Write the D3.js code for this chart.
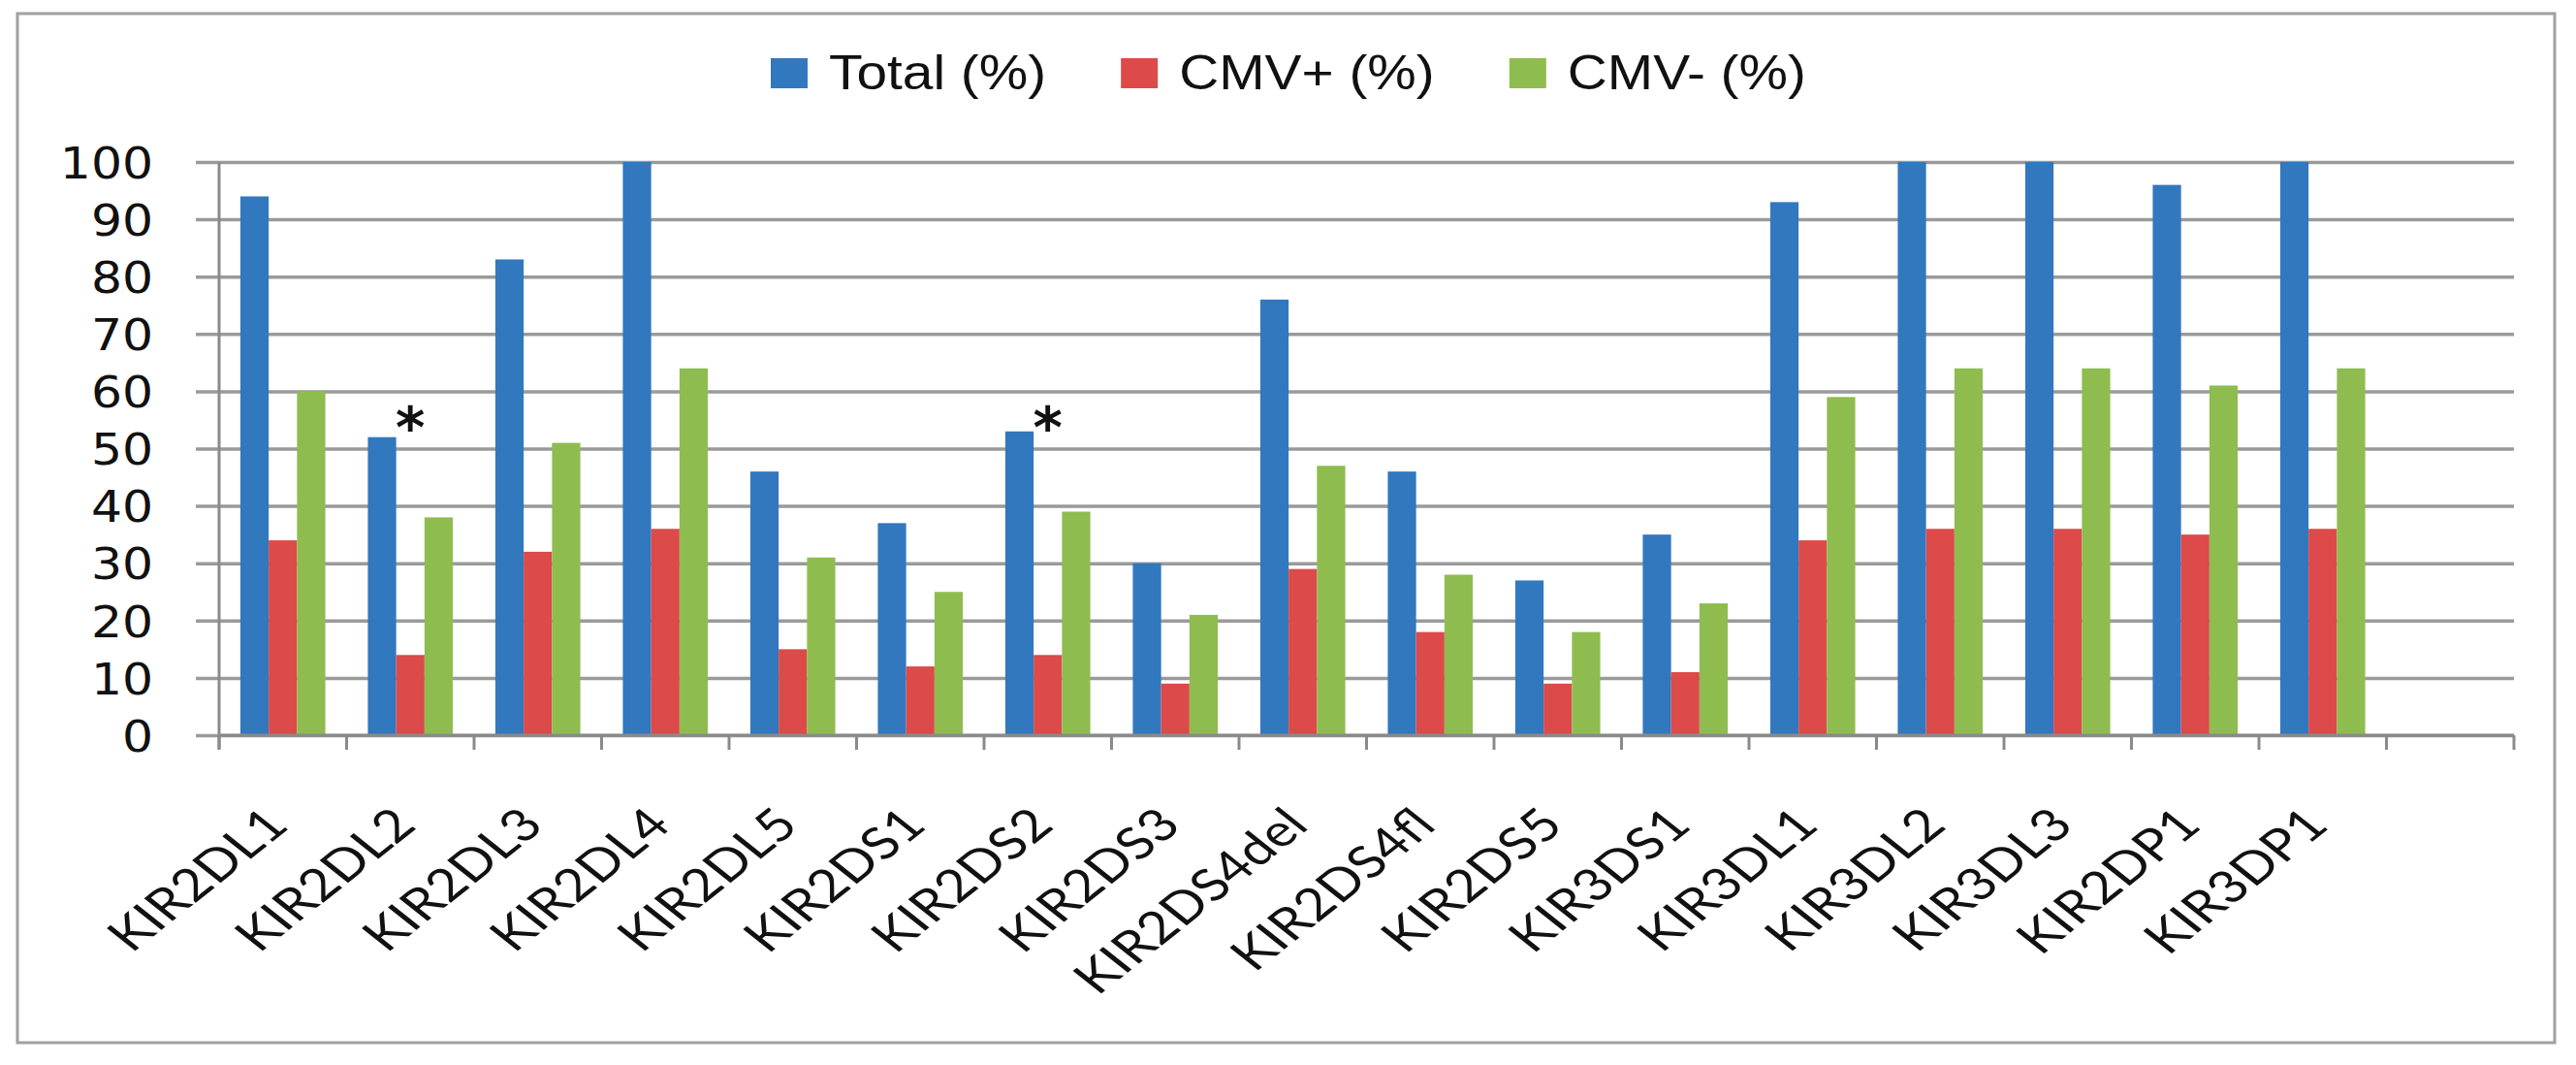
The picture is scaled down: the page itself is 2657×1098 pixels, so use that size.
<!DOCTYPE html>
<html>
<head>
<meta charset="utf-8">
<title>KIR genes: Total, CMV+ and CMV- (%)</title>
<style>
    body { margin: 0; background: #fff; }
    svg { display: block; background: #fff; }
</style>
</head>
<body>
<script src="https://d3js.org/d3.v7.min.js"></script>
<script>
    // chart values
    const categories = ["KIR2DL1", "KIR2DL2", "KIR2DL3", "KIR2DL4", "KIR2DL5", "KIR2DS1", "KIR2DS2",
        "KIR2DS3", "KIR2DS4del", "KIR2DS4fl", "KIR2DS5", "KIR3DS1", "KIR3DL1", "KIR3DL2",
        "KIR3DL3", "KIR2DP1", "KIR3DP1"];
    const totalPct = [94, 52, 83, 100, 46, 37, 53, 30, 76, 46, 27, 35, 93, 100, 100, 96, 100];
    const cmvPosPct = [34, 14, 32, 36, 15, 12, 14, 9, 29, 18, 9, 11, 34, 36, 36, 35, 36];
    const cmvNegPct = [60, 38, 51, 64, 31, 25, 39, 21, 47, 28, 18, 23, 59, 64, 64, 61, 64];
    const seriesNames = ["Total (%)", "CMV+ (%)", "CMV- (%)"];
    const seriesColors = ["#3278bf", "#dc4a4a", "#8fbc4f"];
    const yTicks = [0, 10, 20, 30, 40, 50, 60, 70, 80, 90, 100];
    const starred = ["KIR2DL2", "KIR2DS2"];
    const starLevel = 56;

    const width = 2657, height = 1098;
    const plot = { left: 226, right: 2593, top: 167, bottom: 758 };
    const stretch = 1.16; // the original picture is a bit wider than its fonts

    const svg = d3.select("body").append("svg")
        .attr("width", width)
        .attr("height", height);

    // outer frame
    svg.append("rect")
        .attr("x", 18).attr("y", 14)
        .attr("width", 2617).attr("height", 1061)
        .attr("fill", "none")
        .attr("stroke", "#a0a0a0")
        .attr("stroke-width", 3);

    // one empty slot after the last category, like the original
    const x = d3.scaleBand()
        .domain(categories.concat([""]))
        .range([plot.left, plot.right]);

    const xs = d3.scaleBand()
        .domain(seriesNames)
        .range([0, x.bandwidth()])
        .paddingOuter(0.75);

    const y = d3.scaleLinear()
        .domain([0, 100])
        .range([plot.bottom, plot.top]);

    // gridlines + y axis
    const yAxis = svg.append("g")
        .attr("transform", `translate(${plot.left},0)`)
        .call(d3.axisLeft(y).tickValues(yTicks).tickSizeOuter(0).tickSizeInner(24).tickPadding(44));
    yAxis.select(".domain").remove();
    yAxis.selectAll(".tick line")
        .attr("x2", plot.right - plot.left)
        .attr("x1", -24)
        .attr("stroke", "#9a9a9a")
        .attr("stroke-width", 3.5);
    yAxis.selectAll(".tick text")
        .attr("font-family", "DejaVu Sans, Verdana, sans-serif")
        .attr("font-size", 45)
        .attr("fill", "#111")
        .attr("x", -68 / 1.12)
        .attr("transform", "scale(1.12,1)")
        .attr("dy", "0.36em");

    svg.append("line")
        .attr("x1", plot.left).attr("x2", plot.left)
        .attr("y1", plot.top).attr("y2", plot.bottom + 14)
        .attr("stroke", "#8a8a8a").attr("stroke-width", 3);

    // bars
    const rows = categories.map((c, i) => ({
        cat: c,
        values: [totalPct[i], cmvPosPct[i], cmvNegPct[i]]
    }));

    const groups = svg.append("g").selectAll("g")
        .data(rows)
        .join("g")
        .attr("transform", d => `translate(${x(d.cat)},0)`);

    groups.selectAll("rect")
        .data(d => d.values.map((v, k) => ({ name: seriesNames[k], v: v, k: k })))
        .join("rect")
        .attr("x", d => xs(d.name))
        .attr("width", xs.bandwidth())
        .attr("y", d => y(d.v))
        .attr("height", d => y(0) - y(d.v))
        .attr("fill", d => seriesColors[d.k]);

    // x axis with ticks between categories
    svg.append("line")
        .attr("x1", plot.left).attr("x2", plot.right)
        .attr("y1", plot.bottom).attr("y2", plot.bottom)
        .attr("stroke", "#8a8a8a").attr("stroke-width", 3);

    const bounds = x.domain().map(c => x(c)).concat([plot.right]);
    svg.append("g").selectAll("line")
        .data(bounds)
        .join("line")
        .attr("x1", d => d).attr("x2", d => d)
        .attr("y1", plot.bottom).attr("y2", plot.bottom + 15)
        .attr("stroke", "#8a8a8a").attr("stroke-width", 3);

    svg.append("g").selectAll("text")
        .data(categories)
        .join("text")
        .attr("transform", d => `translate(${x(d) + x.bandwidth() / 2 + 8},853) scale(1.26,1) rotate(-45)`)
        .attr("text-anchor", "end")
        .attr("font-family", "Lato, 'Open Sans', sans-serif")
        .attr("font-size", 46)
        .attr("fill", "#111")
        .text(d => d);

    // significance marks
    svg.append("g").selectAll("text")
        .data(starred)
        .join("text")
        .attr("x", d => x(d) + x.bandwidth() / 2)
        .attr("y", y(starLevel) + 34)
        .attr("text-anchor", "middle")
        .attr("font-family", "DejaVu Sans, sans-serif")
        .attr("font-weight", "bold")
        .attr("font-size", 58)
        .attr("fill", "#111")
        .text("*");

    // legend
    const legend = svg.append("g");
    let lx = 795;
    seriesNames.forEach((name, k) => {
        legend.append("rect")
            .attr("x", lx).attr("y", 60)
            .attr("width", 38).attr("height", 31)
            .attr("fill", seriesColors[k]);
        const t = legend.append("text")
            .attr("transform", `translate(${lx + 60},92) scale(${stretch},1)`)
            .attr("font-family", "Liberation Sans, Arial, sans-serif")
            .attr("font-size", 49)
            .attr("fill", "#111")
            .text(name);
        lx += 60 + t.node().getComputedTextLength() * stretch + 77;
    });
</script>
</body>
</html>
